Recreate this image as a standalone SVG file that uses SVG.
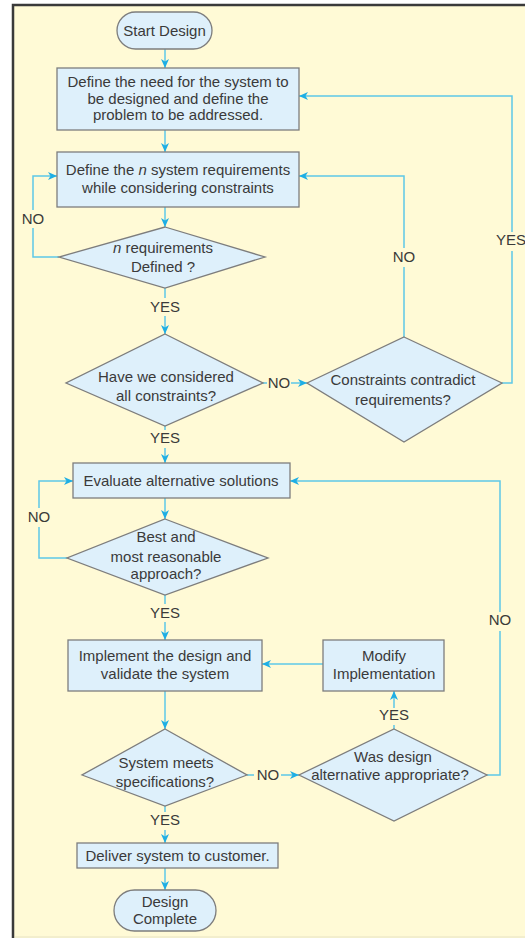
<svg xmlns="http://www.w3.org/2000/svg" width="525" height="938" viewBox="0 0 525 938">
  <style>
    .node { fill: #def0fb; stroke: #7d7d7d; stroke-width: 1.3; }
    .t { font-family: "Liberation Sans", Arial, sans-serif; font-size: 15px; fill: #3a3a3a; text-anchor: middle; }
    .lbl { font-family: "Liberation Sans", Arial, sans-serif; font-size: 15px; fill: #3a3a3a; text-anchor: middle; }
    .arrow { fill: none; stroke: #5ec8e8; stroke-width: 1.5; marker-end: url(#ah); }
  </style>
  <defs>
    <marker id="ah" markerUnits="userSpaceOnUse" markerWidth="10" markerHeight="8" refX="9" refY="4" orient="auto">
      <path d="M0,0 L9,4 L0,8 L2.5,4 Z" fill="#1eaee4"/>
    </marker>
  </defs>

  <rect x="0" y="0" width="525" height="938" fill="#ffffff"/>
  <rect id="frame" x="13" y="5" width="530" height="945" fill="#fffad6" stroke="#3a3a3a" stroke-width="2.5"/>
  <line x1="15" y1="937" x2="525" y2="937" stroke="#e6e2c4" stroke-width="1"/>

  <g id="connectors">
    <path class="arrow" d="M165,49 V68"/>
    <path class="arrow" d="M165,130 V152"/>
    <path class="arrow" d="M165,207 V227"/>
    <path class="arrow" d="M59,257 H33 V228 M33,210 V176 H57"/>
    <path class="arrow" d="M165,288 V298 M165,316 V334"/>
    <path class="arrow" d="M263,383 H267 M291,383 H307"/>
    <path class="arrow" d="M404,337 V267 M404,248 V176 H299"/>
    <path class="arrow" d="M502,383 H512 V251 M512,232 V96 H299"/>
    <path class="arrow" d="M165,426 V430 M165,448 V463"/>
    <path class="arrow" d="M165,498 V519"/>
    <path class="arrow" d="M67,558 H39 V527 M39,508 V481 H73"/>
    <path class="arrow" d="M165,595 V604 M165,622 V640"/>
    <path class="arrow" d="M487,775 H500 V631 M500,612 V481 H290"/>
    <path class="arrow" d="M165,691 V729"/>
    <path class="arrow" d="M323,664 H262"/>
    <path class="arrow" d="M394,729 V725 M394,708 V691"/>
    <path class="arrow" d="M247,775 H254 M281,775 H299"/>
    <path class="arrow" d="M165,806 V812 M165,830 V843"/>
    <path class="arrow" d="M165,868 V890"/>
  </g>

  <g id="connector-labels">
    <text class="lbl" x="33" y="224">NO</text>
    <text class="lbl" x="165" y="312">YES</text>
    <text class="lbl" x="279" y="388">NO</text>
    <text class="lbl" x="404" y="262">NO</text>
    <text class="lbl" x="511" y="245">YES</text>
    <text class="lbl" x="165" y="443">YES</text>
    <text class="lbl" x="39" y="522">NO</text>
    <text class="lbl" x="165" y="618">YES</text>
    <text class="lbl" x="500" y="625">NO</text>
    <text class="lbl" x="394" y="720">YES</text>
    <text class="lbl" x="268" y="780">NO</text>
    <text class="lbl" x="165" y="825">YES</text>
  </g>

  <g id="start">
    <rect class="node" x="117" y="12" width="95" height="37" rx="18.5"/>
    <text class="t" x="164.5" y="36">Start Design</text>
  </g>

  <g id="define-need">
    <rect class="node" x="57" y="68" width="242" height="62"/>
    <text class="t" x="178" y="87">Define the need for the system to</text>
    <text class="t" x="178" y="103.5">be designed and define the</text>
    <text class="t" x="178" y="120">problem to be addressed.</text>
  </g>

  <g id="define-requirements">
    <rect class="node" x="57" y="152" width="242" height="55"/>
    <text class="t" x="178" y="175">Define the <tspan font-style="italic">n</tspan> system requirements</text>
    <text class="t" x="178" y="193">while considering constraints</text>
  </g>

  <g id="requirements-defined">
    <polygon class="node" points="165,227 265,257 165,288 59,257"/>
    <text class="t" x="163" y="253"><tspan font-style="italic">n</tspan> requirements</text>
    <text class="t" x="163" y="272">Defined ?</text>
  </g>

  <g id="considered-constraints">
    <polygon class="node" points="165,334 263,383 165,426 66,383"/>
    <text class="t" x="166" y="382">Have we considered</text>
    <text class="t" x="166" y="401">all constraints?</text>
  </g>

  <g id="constraints-contradict">
    <polygon class="node" points="404,337 502,383 404,442 307,383"/>
    <text class="t" x="403" y="385">Constraints contradict</text>
    <text class="t" x="403" y="405">requirements?</text>
  </g>

  <g id="evaluate">
    <rect class="node" x="73" y="463" width="217" height="35"/>
    <text class="t" x="181" y="486">Evaluate alternative solutions</text>
  </g>

  <g id="best-approach">
    <polygon class="node" points="165,519 268,558 165,595 67,558"/>
    <text class="t" x="166" y="542">Best and</text>
    <text class="t" x="166" y="562">most reasonable</text>
    <text class="t" x="166" y="579">approach?</text>
  </g>

  <g id="implement">
    <rect class="node" x="68" y="640" width="194" height="51"/>
    <text class="t" x="165" y="661">Implement the design and</text>
    <text class="t" x="165" y="679">validate the system</text>
  </g>

  <g id="modify">
    <rect class="node" x="323" y="640" width="121" height="51"/>
    <text class="t" x="384" y="661">Modify</text>
    <text class="t" x="384" y="679">Implementation</text>
  </g>

  <g id="meets-specs">
    <polygon class="node" points="165,729 247,775 165,806 82,775"/>
    <text class="t" x="166" y="768">System meets</text>
    <text class="t" x="165" y="787">specifications?</text>
  </g>

  <g id="alternative-appropriate">
    <polygon class="node" points="394,729 487,775 394,821 299,775"/>
    <text class="t" x="393" y="762">Was design</text>
    <text class="t" x="390" y="780">alternative appropriate?</text>
  </g>

  <g id="deliver">
    <rect class="node" x="77" y="843" width="201" height="25"/>
    <text class="t" x="177.5" y="861">Deliver system to customer.</text>
  </g>

  <g id="complete">
    <rect class="node" x="114" y="890" width="102" height="41" rx="20.5"/>
    <text class="t" x="165" y="907">Design</text>
    <text class="t" x="165" y="924">Complete</text>
  </g>
</svg>
